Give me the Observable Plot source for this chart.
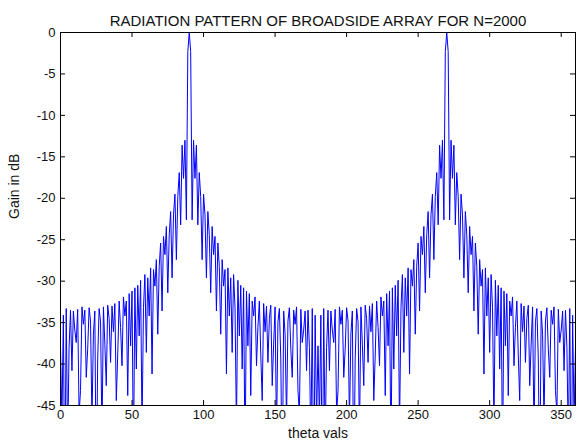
<!DOCTYPE html>
<html>
<head>
<meta charset="utf-8">
<script src="https://cdn.jsdelivr.net/npm/d3@7"></script>
<script src="https://cdn.jsdelivr.net/npm/@observablehq/plot@0.6"></script>
<style>
  html, body { margin: 0; padding: 0; background: #fff; }
  #chart svg { display: block; }
</style>
</head>
<body>
<div id="chart"></div>
<script>
const titleText = "RADIATION PATTERN OF BROADSIDE ARRAY FOR N=2000";
const xLabel = "theta vals";
const yLabel = "Gain in dB";
const xTicks = [0, 50, 100, 150, 200, 250, 300, 350];
const yTicks = [0, -5, -10, -15, -20, -25, -30, -35, -40, -45];

// Gain (dB) read at 1-degree steps
// theta 0 .. 90
const gainQ1 = [
  -37.8, -47.0, -34.1, -58.0, -33.3, -50.0, -38.0, -33.5, -40.8, -33.6,
  -35.9, -37.4, -33.4, -46.0, -43.2, -33.1, -35.2, -33.5, -41.6, -38.2,
  -33.2, -34.8, -47.0, -36.4, -33.6, -56.0, -39.4, -33.3, -34.9, -49.0,
  -33.1, -37.6, -42.6, -32.9, -34.5, -39.8, -33.0, -36.1, -32.7, -44.4,
  -38.9, -32.4, -35.6, -40.2, -31.9, -34.2, -32.4, -43.8, -31.5, -37.8,
  -31.2, -52.0, -30.8, -40.6, -30.5, -36.6, -29.9, -48.0, -33.2, -29.2,
  -38.6, -29.6, -34.2, -28.4, -41.2, -28.6, -30.6, -27.4, -36.4, -28.2,
  -25.4, -33.6, -24.6, -26.8, -23.4, -31.4, -24.4, -21.6, -29.6, -22.0,
  -19.5, -27.4, -19.8, -16.9, -23.2, -13.6, -17.6, -13.0, -22.6, -2.3,
  0
];
// theta 91 .. 180
const gainQ2 = [
  -2.3, -22.6, -13.0, -17.6, -13.6, -23.2, -16.9, -19.8, -27.4, -19.5,
  -22.0, -29.6, -21.6, -24.4, -31.4, -23.4, -26.8, -24.6, -33.6, -25.4,
  -28.2, -36.4, -27.4, -30.6, -28.6, -41.2, -28.4, -34.2, -29.6, -38.6,
  -29.2, -33.2, -48.0, -29.9, -36.6, -30.5, -40.6, -30.8, -52.0, -31.2,
  -37.8, -31.5, -43.8, -32.4, -34.2, -31.9, -40.2, -35.6, -32.4, -38.9,
  -44.4, -32.7, -36.1, -33.0, -39.8, -34.5, -32.9, -42.6, -37.6, -33.1,
  -49.0, -34.9, -33.3, -39.4, -56.0, -33.6, -36.4, -47.0, -34.8, -33.2,
  -38.2, -41.6, -33.5, -35.2, -33.1, -43.2, -46.0, -33.4, -37.4, -35.9,
  -33.6, -40.8, -33.5, -38.0, -50.0, -33.3, -58.0, -34.1, -47.0, -37.8
];
// theta 181 .. 270
const gainQ3 = [
  -47.0, -34.1, -58.0, -33.3, -50.0, -38.0, -33.5, -40.8, -33.6,
  -35.9, -37.4, -33.4, -46.0, -43.2, -33.1, -35.2, -33.5, -41.6, -38.2,
  -33.2, -34.8, -47.0, -36.4, -33.6, -56.0, -39.4, -33.3, -34.9, -49.0,
  -33.1, -37.6, -42.6, -32.9, -34.5, -39.8, -33.0, -36.1, -32.7, -44.4,
  -38.9, -32.4, -35.6, -40.2, -31.9, -34.2, -32.4, -43.8, -31.5, -37.8,
  -31.2, -52.0, -30.8, -40.6, -30.5, -36.6, -29.9, -48.0, -33.2, -29.2,
  -38.6, -29.6, -34.2, -28.4, -41.2, -28.6, -30.6, -27.4, -36.4, -28.2,
  -25.4, -33.6, -24.6, -26.8, -23.4, -31.4, -24.4, -21.6, -29.6, -22.0,
  -19.5, -27.4, -19.8, -16.9, -23.2, -13.6, -17.6, -13.0, -22.6, -2.3,
  0
];
// theta 271 .. 360
const gainQ4 = [
  -2.3, -22.6, -13.0, -17.6, -13.6, -23.2, -16.9, -19.8, -27.4, -19.5,
  -22.0, -29.6, -21.6, -24.4, -31.4, -23.4, -26.8, -24.6, -33.6, -25.4,
  -28.2, -36.4, -27.4, -30.6, -28.6, -41.2, -28.4, -34.2, -29.6, -38.6,
  -29.2, -33.2, -48.0, -29.9, -36.6, -30.5, -40.6, -30.8, -52.0, -31.2,
  -37.8, -31.5, -43.8, -32.4, -34.2, -31.9, -40.2, -35.6, -32.4, -38.9,
  -44.4, -32.7, -36.1, -33.0, -39.8, -34.5, -32.9, -42.6, -37.6, -33.1,
  -49.0, -34.9, -33.3, -39.4, -56.0, -33.6, -36.4, -47.0, -34.8, -33.2,
  -38.2, -41.6, -33.5, -35.2, -33.1, -43.2, -46.0, -33.4, -37.4, -35.9,
  -33.6, -40.8, -33.5, -38.0, -50.0, -33.3, -58.0, -34.1, -47.0, -37.8
];

const gain = [...gainQ1, ...gainQ2, ...gainQ3, ...gainQ4];
const data = gain.map((g, i) => ({theta: i, gain: g}));

const font = "'Liberation Sans', Arial, Helvetica, sans-serif";
const fmt = d => String(d);

const chart = Plot.plot({
  width: 581,
  height: 445,
  marginLeft: 60,
  marginRight: 6,
  marginTop: 32,
  marginBottom: 40,
  style: {fontFamily: font, fontSize: "13px", color: "#111", background: "#fff", overflow: "visible"},
  x: {domain: [0, 360], label: null},
  y: {domain: [-45, 0], label: null},
  marks: [
    Plot.line(data, {x: "theta", y: "gain", stroke: "#0000ff", strokeWidth: 1, clip: true}),
    Plot.frame({stroke: "#000", strokeWidth: 1}),
    // inward ticks on all four sides
    Plot.ruleX(xTicks, {x: d => d, y1: -45, y2: -44.4, stroke: "#000"}),
    Plot.ruleX(xTicks, {x: d => d, y1: 0, y2: -0.6, stroke: "#000"}),
    Plot.ruleY(yTicks, {y: d => d, x1: 0, x2: 3.5, stroke: "#000"}),
    Plot.ruleY(yTicks, {y: d => d, x1: 360, x2: 356.5, stroke: "#000"}),
    Plot.axisX(xTicks, {anchor: "bottom", tickSize: 0, tickPadding: 4, tickFormat: fmt, label: null, fontSize: 13}),
    Plot.axisY(yTicks, {anchor: "left", tickSize: 0, tickPadding: 5, tickFormat: fmt, label: null, fontSize: 13}),
    Plot.text([titleText], {frameAnchor: "top", dy: -17, text: d => d, fontSize: 15, fill: "#111"}),
    Plot.text([xLabel], {frameAnchor: "bottom", dy: 32, text: d => d, fontSize: 14, fill: "#111"}),
    Plot.text([yLabel], {frameAnchor: "left", dx: -46, rotate: -90, text: d => d, fontSize: 14, fill: "#111"})
  ]
});
document.getElementById("chart").appendChild(chart);
</script>
</body>
</html>
